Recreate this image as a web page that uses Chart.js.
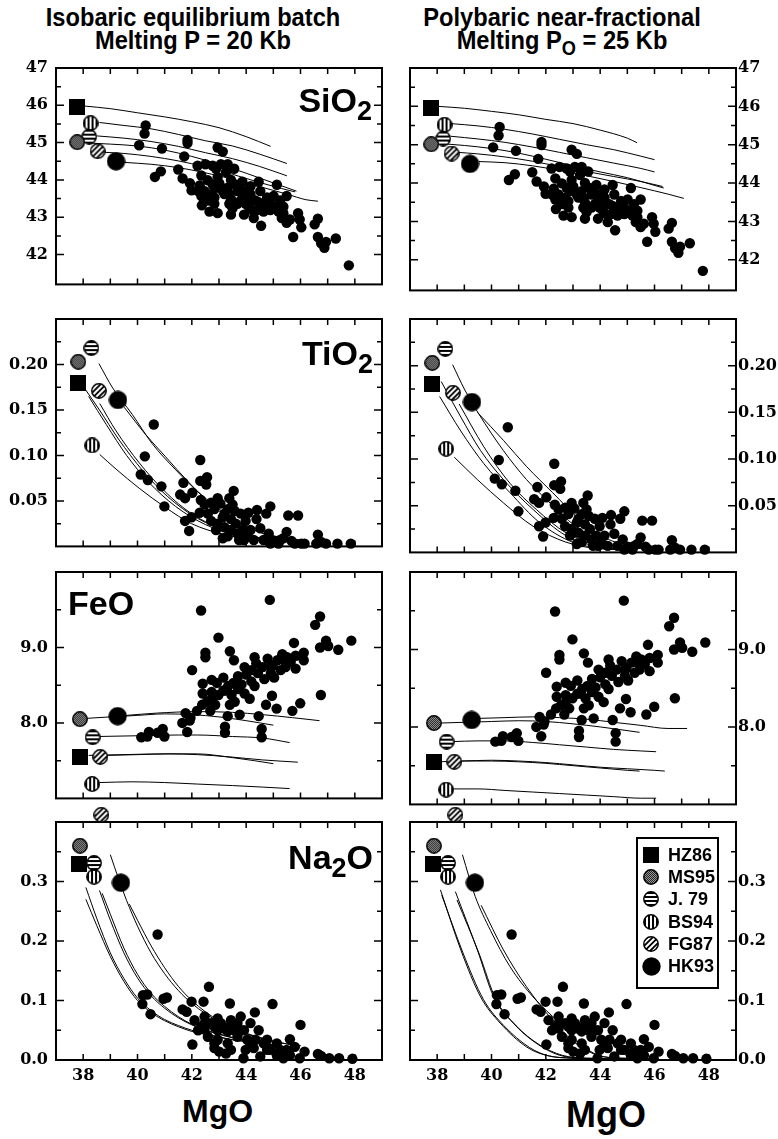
<!DOCTYPE html>
<html>
<head>
<meta charset="utf-8">
<script src="https://cdn.jsdelivr.net/npm/chart.js@4.4.0/dist/chart.umd.min.js"></script>
<style>
  body { margin: 0; background: #fff; width: 778px; height: 1139px; overflow: hidden; position: relative;
         font-family: "Liberation Sans", Arial, sans-serif; }
  .title { position: absolute; top: 6px; width: 400px; font-weight: bold; font-size: 26px; line-height: 23px;
           text-align: center; white-space: nowrap; transform: scaleX(0.91); transform-origin: 50% 0; }
  .panel { position: absolute; }
  .axis { position: absolute; font-weight: bold; white-space: nowrap; }
</style>
</head>
<body>
<div class="title" style="left:-7px">Isobaric equilibrium batch<br>Melting P = 20 Kb</div>
<div class="title" style="left:362px">Polybaric near-fractional<br>Melting P<span style="font-size:20px;position:relative;top:6px">O</span> = 25 Kb</div>
<div class="axis" style="left:182px;top:1095px;font-size:32px;line-height:32px">MgO</div>
<div class="axis" style="left:566px;top:1097px;font-size:36px;line-height:36px">MgO</div>

<script>
// starting compositions, in legend order
const sourceNames = ['HZ86', 'MS95', 'J. 79', 'BS94', 'FG87', 'HK93'];
const srcSiO2 = [[37.78, 45.95], [37.78, 45.01], [38.22, 45.16], [38.27, 45.52], [38.53, 44.77], [39.21, 44.50]];
const srcTiO2 = [[37.82, 0.180], [37.82, 0.203], [38.30, 0.218], [38.33, 0.111], [38.58, 0.171], [39.28, 0.161]];
const srcFeO = [[37.88, 7.55], [37.88, 8.05], [38.35, 7.81], [38.33, 7.19], [38.63, 7.55], [39.27, 8.09]];
const srcNa2O = [[37.86, 0.329], [37.88, 0.360], [38.40, 0.331], [38.40, 0.308], [38.67, 0.412], [39.39, 0.298]];

// peridotite samples (MgO, oxide)
const sio2Pts = [[40.30,45.46],[40.26,45.24],[40.06,44.93],[40.90,44.84],[41.84,45.07],[41.84,44.99],[42.95,44.87],[43.14,44.76],
  [41.72,44.63],[40.64,44.08],[40.86,44.23],[41.50,44.28],[41.66,44.04],[41.93,43.91],[41.99,43.72],[42.21,44.38],[42.50,44.42],
  [42.35,44.12],[42.29,43.85],[42.35,43.57],[42.37,43.32],[42.65,43.15],[42.83,43.36],[42.71,43.62],[42.89,43.79],[42.95,44.08],
  [43.07,44.42],[43.32,44.42],[43.26,44.21],[43.44,44.00],[43.56,44.30],[43.32,43.79],[43.20,43.62],[43.44,43.49],[43.68,43.70],
  [43.86,43.95],[43.50,43.24],[43.80,43.45],[43.98,43.36],[44.16,43.62],[44.10,43.28],[44.34,43.45],[44.52,43.70],[44.46,43.95],
  [44.28,42.98],[44.55,42.77],[44.64,43.36],[44.77,43.53],[44.89,43.19],[45.13,43.87],[45.25,43.45],[45.37,43.28],[45.49,43.57],
  [45.31,42.98],[45.61,42.94],[45.49,42.85],[45.73,42.47],[45.91,43.11],[45.97,42.94],[46.03,42.73],[46.52,42.81],[46.64,42.96],
  [46.64,42.47],[46.76,42.30],[46.88,42.18],[46.94,42.34],[47.30,42.43],[47.78,41.71],[42.59,43.99],[42.77,43.87],[43.01,43.91],
  [43.14,43.70],[43.38,43.62],[43.62,43.87],[43.74,43.79],[43.98,43.70],[43.92,43.57],[44.16,43.49],[43.68,43.36],[42.83,43.53],
  [42.47,43.70],[42.59,43.45],[42.23,43.70],[42.95,43.11],[43.44,43.07],[43.92,43.07],[44.40,43.19],[44.64,43.15],[44.89,43.36],
  [45.07,43.28],[45.19,43.15],[45.37,43.11],[45.01,43.57],[44.77,43.36],[44.22,43.19],[44.46,43.40],[43.38,43.36],[42.77,44.38],
  [44.16,43.83],[42.89,44.30]];
const tio2Pts = [[40.60,0.134],[40.27,0.099],[40.12,0.079],[40.38,0.073],[40.88,0.066],[40.99,0.044],[41.69,0.070],[41.57,0.057],
  [41.75,0.053],[42.02,0.059],[41.75,0.028],[41.90,0.017],[41.99,0.032],[42.31,0.095],[42.31,0.072],[42.56,0.076],[42.53,0.068],
  [42.33,0.051],[42.47,0.046],[42.71,0.048],[42.29,0.037],[42.59,0.036],[42.83,0.041],[43.05,0.047],[43.38,0.053],[43.54,0.061],
  [43.32,0.041],[43.58,0.039],[43.14,0.032],[43.44,0.030],[42.95,0.025],[43.20,0.021],[43.62,0.025],[43.86,0.018],[43.14,0.009],
  [43.32,0.011],[43.68,0.014],[44.08,0.037],[44.40,0.040],[44.38,0.030],[44.74,0.036],[44.89,0.044],[44.16,0.018],[44.52,0.020],
  [44.83,0.014],[44.04,0.011],[44.64,0.007],[45.01,0.006],[45.19,0.003],[45.49,0.016],[45.55,0.034],[45.91,0.034],[45.37,0.009],
  [45.67,0.006],[45.79,0.003],[46.03,0.003],[46.15,0.003],[46.64,0.013],[46.58,0.003],[46.76,0.005],[46.94,0.003],[47.36,0.003],
  [47.85,0.003],[42.71,0.028],[42.89,0.018],[43.44,0.018],[43.74,0.007],[43.92,0.007],[44.28,0.007],[44.89,0.003],[45.25,0.007],
  [43.50,0.046],[42.95,0.053],[43.20,0.036],[43.98,0.028],[43.80,0.036]];
const feoPts = [[42.34,9.49],[44.87,9.63],[42.98,9.13],[42.50,8.93],[42.50,8.87],[43.40,8.95],[43.55,8.83],[42.01,8.70],[42.40,8.52],
  [42.40,8.39],[42.73,8.57],[42.92,8.53],[43.16,8.60],[42.73,8.41],[41.77,8.13],[41.95,8.07],[42.19,8.16],[42.38,8.24],[42.56,8.28],
  [42.73,8.32],[42.98,8.37],[43.16,8.43],[43.34,8.49],[43.53,8.53],[43.70,8.45],[43.83,8.51],[44.00,8.64],[44.19,8.70],[44.37,8.79],
  [44.43,8.66],[44.61,8.74],[44.79,8.85],[44.97,8.76],[45.15,8.83],[45.33,8.91],[45.51,8.87],[45.76,9.06],[45.82,8.72],[46.12,8.93],
  [46.12,8.83],[46.54,9.30],[46.72,9.41],[46.72,9.00],[46.94,9.09],[47.02,9.02],[47.39,8.97],[47.87,9.09],[46.75,8.37],[45.99,8.26],
  [45.70,8.16],[45.12,8.19],[44.73,8.24],[44.95,8.36],[44.46,8.09],[43.76,8.11],[43.32,8.09],[43.22,7.95],[43.22,7.87],[44.57,7.92],
  [44.57,7.81],[41.65,8.00],[41.83,7.88],[41.92,8.03],[40.14,7.81],[40.36,7.82],[40.42,7.88],[40.74,7.87],[40.93,7.92],[40.99,7.82],
  [43.22,8.43],[43.46,8.37],[43.58,8.28],[43.94,8.39],[44.19,8.55],[44.31,8.49],[44.67,8.58],[44.91,8.66],[45.03,8.60],[45.27,8.70],
  [45.45,8.74],[45.64,8.81],[45.82,8.89],[43.94,8.74],[44.31,8.87],[44.91,8.74],[45.39,8.83],[44.13,8.32],[43.40,8.24],[42.86,8.24],
  [42.68,8.16],[43.70,8.62]];
const na2oPts = [[40.74,0.211],[40.20,0.109],[40.36,0.110],[40.18,0.094],[40.48,0.077],[40.96,0.103],[41.08,0.105],[41.66,0.085],
  [41.81,0.081],[41.99,0.098],[42.43,0.098],[42.63,0.123],[42.02,0.026],[42.10,0.067],[42.47,0.073],[42.35,0.056],[42.71,0.062],
  [42.95,0.050],[42.95,0.034],[43.32,0.048],[43.40,0.095],[43.44,0.067],[43.68,0.062],[43.80,0.073],[43.92,0.050],[44.16,0.062],
  [44.32,0.080],[44.46,0.050],[44.34,0.034],[43.98,0.017],[43.90,0.003],[43.26,0.011],[43.44,0.017],[44.52,0.006],[44.64,0.028],
  [44.77,0.034],[44.97,0.094],[45.13,0.028],[45.37,0.003],[45.49,0.017],[45.61,0.035],[45.79,0.022],[45.97,0.003],[46.00,0.059],
  [46.15,0.014],[46.64,0.010],[46.76,0.007],[47.06,0.003],[47.42,0.003],[47.91,0.002],[42.23,0.050],[42.47,0.053],[42.59,0.039],
  [42.83,0.056],[43.07,0.062],[43.20,0.053],[43.56,0.050],[43.68,0.039],[42.83,0.028],[44.04,0.034],[44.16,0.028],[43.32,0.028],
  [44.89,0.017],[45.25,0.017],[44.77,0.017],[45.13,0.008],[45.61,0.008],[44.28,0.020],[42.47,0.062],[42.95,0.070],[43.44,0.059],
  [43.80,0.050],[43.01,0.014],[42.83,0.020]];

// melting model curves, batch (left) and near-fractional (right)
const sio2Batch = [
  [[38.06,45.98],[39.0,45.91],[40.0,45.80],[41.0,45.69],[42.0,45.56],[43.0,45.40],[44.0,45.16],[44.9,44.90]],
  [[38.6,45.54],[39.5,45.46],[40.5,45.37],[41.5,45.22],[42.5,45.05],[43.5,44.91],[44.5,44.69],[45.5,44.44]],
  [[38.5,45.18],[39.5,45.12],[40.5,45.03],[41.5,44.90],[42.5,44.73],[43.5,44.57],[44.5,44.36],[45.5,44.11]],
  [[38.2,44.99],[39.0,44.96],[40.0,44.91],[41.0,44.80],[42.0,44.63],[43.0,44.42],[44.0,44.18],[45.0,43.92],[45.85,43.70]],
  [[38.8,44.74],[39.5,44.71],[40.5,44.63],[41.5,44.51],[42.5,44.35],[43.5,44.15],[44.5,43.93],[45.3,43.77],[45.8,43.68]],
  [[39.5,44.47],[40.5,44.42],[41.5,44.33],[42.5,44.19],[43.5,44.02],[44.5,43.82],[45.5,43.62],[46.2,43.47],[46.64,43.43]]];
const sio2Frac = [
  [[38.03,46.0],[39.0,45.95],[40.0,45.87],[41.0,45.78],[42.0,45.66],[43.0,45.55],[44.0,45.38],[45.0,45.17],[45.36,45.05]],
  [[38.5,45.55],[39.5,45.49],[40.5,45.40],[41.5,45.28],[42.5,45.14],[43.5,45.00],[44.5,44.87],[45.5,44.70],[46.0,44.61]],
  [[38.5,45.22],[39.5,45.15],[40.5,45.06],[41.5,44.94],[42.5,44.80],[43.5,44.66],[44.5,44.52],[45.5,44.38],[46.0,44.29]],
  [[38.3,45.02],[39.0,44.98],[40.0,44.90],[41.0,44.78],[42.0,44.62],[43.0,44.45],[44.0,44.29],[45.0,44.14],[45.8,43.98],[46.34,43.87]],
  [[38.75,44.80],[39.5,44.76],[40.5,44.68],[41.5,44.57],[42.5,44.43],[43.5,44.30],[44.5,44.17],[45.5,44.04],[46.3,43.91]],
  [[39.54,44.56],[40.5,44.53],[41.5,44.45],[42.5,44.33],[43.5,44.19],[44.5,44.04],[45.5,43.88],[46.5,43.71],[47.08,43.60]]];
const tio2Batch = [
  [[38.0,0.176],[38.6,0.150],[39.3,0.118],[40.2,0.083],[41.1,0.055],[42.2,0.031],[43.4,0.016],[44.6,0.009],[45.4,0.007]],
  [[38.2,0.165],[38.85,0.134],[39.6,0.100],[40.4,0.071],[41.4,0.044],[42.5,0.024],[43.7,0.012],[44.6,0.008],[45.4,0.006]],
  [[38.61,0.157],[39.21,0.127],[40.06,0.092],[41.02,0.060],[41.99,0.036],[43.2,0.018],[44.4,0.010],[45.4,0.007]],
  [[38.58,0.201],[39.09,0.174],[39.81,0.145],[40.54,0.113],[41.38,0.085],[42.23,0.060],[43.44,0.032],[44.64,0.014],[45.85,0.007]],
  [[39.51,0.153],[40.30,0.123],[41.02,0.099],[41.87,0.071],[42.83,0.043],[44.04,0.021],[45.25,0.010],[46.0,0.007]],
  [[38.61,0.101],[39.21,0.085],[40.06,0.064],[41.02,0.043],[41.99,0.025],[43.2,0.013],[44.4,0.007],[45.4,0.005]]];
const tio2Frac = [
  [[38.57,0.201],[39.0,0.175],[39.54,0.148],[40.44,0.109],[41.29,0.078],[42.01,0.057],[43.1,0.028],[44.3,0.010],[45.5,0.004]],
  [[39.48,0.150],[40.44,0.120],[41.29,0.092],[42.25,0.064],[43.22,0.036],[44.3,0.014],[45.5,0.005]],
  [[38.81,0.159],[39.72,0.113],[40.68,0.074],[41.65,0.046],[42.74,0.021],[43.94,0.007],[45.0,0.003]],
  [[38.15,0.183],[38.87,0.145],[39.6,0.109],[40.44,0.078],[41.53,0.046],[42.74,0.018],[43.94,0.006],[45.0,0.003]],
  [[38.09,0.167],[38.87,0.130],[39.72,0.095],[40.68,0.064],[41.77,0.032],[42.98,0.011],[44.19,0.004],[45.0,0.003]],
  [[38.63,0.102],[39.48,0.078],[40.44,0.053],[41.53,0.028],[42.74,0.011],[43.94,0.004],[45.0,0.003]]];
const feoBatch = [
  [[38.1,8.06],[39.0,8.08],[40.0,8.10],[41.0,8.12],[42.0,8.11],[43.0,8.08],[44.0,8.03],[45.0,7.97]],
  [[39.6,8.10],[40.7,8.13],[42.2,8.15],[43.5,8.14],[44.6,8.11],[45.7,8.07],[46.7,8.03]],
  [[38.5,7.82],[40.0,7.83],[41.5,7.84],[42.2,7.84],[43.5,7.82],[44.6,7.80],[45.6,7.74]],
  [[38.2,7.57],[39.5,7.58],[41.0,7.59],[42.2,7.59],[43.5,7.54],[44.3,7.50],[45.0,7.46]],
  [[38.85,7.57],[40.0,7.58],[41.2,7.59],[42.2,7.58],[43.4,7.55],[44.6,7.51],[45.9,7.48]],
  [[38.6,7.21],[39.8,7.22],[41.0,7.21],[42.2,7.19],[43.5,7.17],[44.6,7.15],[45.6,7.13]]];
const feoFrac = [
  [[38.1,8.05],[39.0,8.06],[40.0,8.07],[41.0,8.08],[42.0,8.07],[43.0,8.04],[44.0,8.00],[45.45,7.93]],
  [[39.5,8.11],[40.5,8.12],[41.5,8.13],[42.5,8.12],[43.5,8.10],[44.5,8.06],[45.5,8.02],[46.5,7.98],[47.2,7.98]],
  [[38.5,7.81],[39.5,7.82],[40.5,7.82],[41.5,7.80],[42.5,7.77],[43.5,7.74],[44.5,7.71],[45.5,7.69],[46.06,7.68]],
  [[38.1,7.55],[39.0,7.56],[40.0,7.56],[41.0,7.55],[42.0,7.53],[43.0,7.50],[44.0,7.47],[45.0,7.44],[45.45,7.43]],
  [[38.9,7.56],[40.0,7.57],[41.0,7.56],[42.0,7.54],[43.0,7.51],[44.0,7.48],[45.0,7.46],[46.0,7.44],[46.38,7.43]],
  [[38.6,7.20],[39.5,7.20],[40.5,7.18],[41.5,7.16],[42.5,7.14],[43.5,7.12],[44.5,7.10],[45.5,7.08],[46.06,7.08]]];
const na2oBatch = [
  [[39.0,0.345],[39.3,0.305],[39.6,0.268],[40.0,0.225],[40.5,0.180],[41.0,0.145],[41.5,0.117],[42.0,0.095],[42.5,0.078],[43.0,0.064],[43.5,0.053],[44.0,0.044],[44.5,0.037],[45.0,0.031],[45.5,0.027],[46.0,0.024]],
  [[39.7,0.262],[40.0,0.235],[40.5,0.192],[41.0,0.155],[41.5,0.124],[42.0,0.100],[42.5,0.081],[43.0,0.066],[43.5,0.054],[44.0,0.045],[44.5,0.038],[45.0,0.032],[45.5,0.027],[46.0,0.024]],
  [[38.6,0.285],[39.0,0.235],[39.5,0.180],[40.0,0.138],[40.5,0.108],[41.0,0.087],[41.5,0.071],[42.0,0.059],[42.5,0.050],[43.0,0.043],[43.5,0.037],[44.0,0.032],[44.5,0.028],[45.0,0.025],[45.5,0.022]],
  [[38.7,0.280],[39.0,0.245],[39.5,0.188],[40.0,0.144],[40.5,0.112],[41.0,0.090],[41.5,0.073],[42.0,0.060],[42.5,0.051],[43.0,0.044],[43.5,0.038],[44.0,0.033],[44.5,0.029],[45.0,0.025],[45.5,0.022]],
  [[38.1,0.290],[38.5,0.238],[39.0,0.180],[39.5,0.137],[40.0,0.104],[40.5,0.083],[41.0,0.068],[41.5,0.058],[42.0,0.050],[42.5,0.044],[43.0,0.039],[43.5,0.034],[44.0,0.031],[44.5,0.028],[45.0,0.025]],
  [[38.1,0.270],[38.5,0.226],[39.0,0.174],[39.5,0.132],[40.0,0.100],[40.5,0.080],[41.0,0.066],[41.5,0.056],[42.0,0.048],[42.5,0.043],[43.0,0.038],[43.5,0.034],[44.0,0.031],[44.5,0.028],[45.0,0.025]]];
const na2oFrac = [
  [[38.93,0.345],[39.4,0.275],[39.96,0.218],[40.68,0.157],[41.53,0.106],[42.5,0.062],[43.22,0.028],[43.94,0.008],[44.8,0.003],[46.0,0.002]],
  [[39.62,0.260],[40.44,0.185],[41.29,0.123],[42.25,0.067],[43.1,0.028],[43.9,0.008],[44.8,0.003],[46.0,0.002]],
  [[38.67,0.283],[39.48,0.185],[40.08,0.106],[40.8,0.062],[41.65,0.028],[42.5,0.008],[43.5,0.003],[45.0,0.002]],
  [[38.73,0.269],[39.55,0.178],[40.15,0.103],[40.9,0.058],[41.75,0.026],[42.6,0.008],[43.5,0.003],[45.0,0.002]],
  [[38.12,0.286],[38.87,0.185],[39.6,0.106],[40.32,0.062],[41.29,0.022],[42.0,0.008],[43.0,0.003],[44.0,0.002]],
  [[38.17,0.277],[38.95,0.180],[39.7,0.102],[40.45,0.058],[41.4,0.021],[42.1,0.007],[43.0,0.003],[44.0,0.002]]];

// marker glyphs
function makeMarker(name) {
  const s = name === 'HK93' ? 19 : 16;
  const c = document.createElement('canvas');
  c.width = s; c.height = s;
  const g = c.getContext('2d');
  const r = s / 2;
  if (name === 'HZ86') { g.fillStyle = '#000'; g.fillRect(0, 0, s, s); return c; }
  if (name === 'HK93') { g.fillStyle = '#000'; g.beginPath(); g.arc(r, r, r - 0.3, 0, 2 * Math.PI); g.fill(); return c; }
  g.save();
  g.beginPath(); g.arc(r, r, r - 0.8, 0, 2 * Math.PI);
  g.fillStyle = '#fff'; g.fill(); g.clip();
  g.fillStyle = '#000'; g.strokeStyle = '#000';
  if (name === 'MS95') {
    g.fillStyle = '#999'; g.fillRect(0, 0, s, s);
    g.fillStyle = '#222';
    for (let y = 0; y < s; y++) for (let x = 0; x < s; x++) if ((x + y) % 2 === 0) g.fillRect(x, y, 1, 1);
  } else if (name === 'J. 79') {
    for (let y = 1; y < s; y += 4) g.fillRect(0, y, s, 2);
  } else if (name === 'BS94') {
    for (let x = 1; x < s; x += 4) g.fillRect(x, 0, 2, s);
  } else if (name === 'FG87') {
    g.lineWidth = 1.8;
    g.beginPath();
    for (let k = -s; k < 2 * s; k += 5.5) { g.moveTo(k, s); g.lineTo(k + s, 0); }
    g.stroke();
  }
  g.restore();
  g.lineWidth = 1.5; g.strokeStyle = '#000';
  g.beginPath(); g.arc(r, r, r - 0.8, 0, 2 * Math.PI); g.stroke();
  return c;
}
const markers = {};
sourceNames.forEach(n => { markers[n] = makeMarker(n); });

const serif = '"DejaVu Serif", "Liberation Serif", serif';
const sans = '"Liberation Sans", Arial, sans-serif';

function drawFormula(ctx, parts, x, y, align) {
  const big = 'bold 34px ' + sans, small = 'bold 27px ' + sans;
  let w = 0;
  parts.forEach(([t, sub]) => { ctx.font = sub ? small : big; w += ctx.measureText(t).width; });
  let cx = align === 'right' ? x - w : x;
  ctx.textAlign = 'left'; ctx.textBaseline = 'alphabetic';
  parts.forEach(([t, sub]) => {
    ctx.font = sub ? small : big;
    ctx.fillText(t, cx, sub ? y + 8 : y);
    cx += ctx.measureText(t).width;
  });
}

const framePlugin = {
  id: 'frame',
  beforeDatasetsDraw(chart, args, opts) {
    const { ctx, chartArea: a } = chart;
    const xs = chart.scales.x, ys = chart.scales.y;
    const isMajor = v => Math.abs(v / opts.major - Math.round(v / opts.major)) < 1e-6;
    ctx.save();
    ctx.strokeStyle = '#000';
    ctx.lineWidth = 1.5;
    ctx.beginPath();
    xs.ticks.forEach(t => {
      const px = xs.getPixelForValue(t.value);
      if (px <= a.left + 1 || px >= a.right - 1) return;
      ctx.moveTo(px, a.bottom); ctx.lineTo(px, a.bottom - 6);
      ctx.moveTo(px, a.top); ctx.lineTo(px, a.top + 6);
    });
    ys.ticks.forEach(t => {
      const py = ys.getPixelForValue(t.value);
      if (py <= a.top + 1 || py >= a.bottom - 1) return;
      const len = isMajor(t.value) ? 8 : 5;
      ctx.moveTo(a.left, py); ctx.lineTo(a.left + len, py);
      ctx.moveTo(a.right, py); ctx.lineTo(a.right - len, py);
    });
    ctx.stroke();
    ctx.lineWidth = 2;
    ctx.strokeRect(a.left, a.top, a.right - a.left, a.bottom - a.top);
    ctx.restore();
  },
  afterDatasetsDraw(chart, args, opts) {
    const { ctx, chartArea: a } = chart;
    ctx.save();
    ctx.fillStyle = '#000';
    if (opts.label) {
      const L = opts.label;
      drawFormula(ctx, L.parts, L.align === 'right' ? a.right - L.dx : a.left + L.dx, a.top + L.dy, L.align);
    }
    if (opts.legend) {
      const bx = a.right - 99, by = a.top + 16, bw = 81, bh = 150;
      ctx.fillStyle = '#fff'; ctx.fillRect(bx, by, bw, bh);
      ctx.lineWidth = 2; ctx.strokeStyle = '#000'; ctx.strokeRect(bx, by, bw, bh);
      ctx.fillStyle = '#000';
      ctx.font = 'bold 18px ' + sans;
      ctx.textAlign = 'left'; ctx.textBaseline = 'middle';
      sourceNames.forEach((n, i) => {
        const cy = by + 17 + i * 22.2;
        const img = markers[n];
        ctx.drawImage(img, Math.round(bx + 14 - img.width / 2), Math.round(cy - img.height / 2));
        ctx.fillText(n, bx + 31, cy + 1);
      });
    }
    ctx.restore();
  }
};

function toXY(arr) { return arr.map(([x, y]) => ({ x, y })); }

function addPanel(p) {
  const leftCol = p.col === 'left';
  const divLeft = leftCol ? 0 : 400, width = leftCol ? 392 : 378;
  const padTop = 22, padBottom = p.xLabels ? 0 : 6, xH = p.xLabels ? 32 : 0;
  const height = (p.bottom - p.top) + padTop + padBottom + xH;
  const div = document.createElement('div');
  div.className = 'panel';
  div.style.cssText = `left:${divLeft}px;top:${p.top - padTop}px;width:${width}px;height:${height}px`;
  const cv = document.createElement('canvas');
  cv.width = width; cv.height = height;
  div.appendChild(cv);
  document.body.appendChild(div);

  const datasets = [];
  sourceNames.forEach((n, i) => {
    datasets.push({ data: toXY([p.sources[i]]), pointStyle: markers[n], pointRadius: 9, clip: false });
  });
  datasets.push({ data: toXY(p.points), pointStyle: 'circle', pointRadius: 5.2, pointBackgroundColor: '#000',
                  pointBorderWidth: 0, clip: false });
  p.curves.forEach(c => {
    datasets.push({ data: toXY(c), showLine: true, pointRadius: 0, borderColor: '#000', borderWidth: 1,
                    cubicInterpolationMode: 'monotone', clip: false });
  });

  new Chart(cv, {
    type: 'scatter',
    data: { datasets },
    plugins: [framePlugin],
    options: {
      responsive: false,
      animation: false,
      events: [],
      layout: { padding: { top: padTop, bottom: padBottom, left: leftCol ? 0 : 5, right: leftCol ? 5 : 0 } },
      plugins: {
        legend: { display: false },
        tooltip: { enabled: false },
        frame: { major: p.major, label: p.label, legend: p.legend }
      },
      scales: {
        x: {
          type: 'linear', min: 37, max: 49,
          grid: { display: false, drawTicks: false },
          border: { display: false },
          ticks: {
            display: !!p.xLabels, stepSize: 1, autoSkip: false, maxRotation: 0, padding: 6,
            color: '#000', font: { family: serif, size: 16, weight: 'bold' },
            callback: v => (v % 2 === 0 && v >= 38 && v <= 48) ? String(v) : ''
          },
          afterFit: s => { s.height = xH; }
        },
        y: {
          type: 'linear', position: leftCol ? 'left' : 'right', min: p.yMin, max: p.yMax,
          grid: { display: false, drawTicks: false },
          border: { display: false },
          ticks: {
            stepSize: p.step, autoSkip: false, padding: leftCol ? 8 : 2,
            color: '#000', font: { family: serif, size: 16, weight: 'bold' },
            callback: p.fmt
          },
          afterFit: s => { s.width = leftCol ? 56 : 42; }
        }
      }
    }
  });
}

const rows = [
  { top: 68, bottom: 296, yMin: 41.2, yMax: 47, step: 0.5, major: 1, points: sio2Pts, sources: srcSiO2,
    batch: sio2Batch, frac: sio2Frac,
    fmt: v => (Math.abs(v - Math.round(v)) < 1e-6 && v >= 42 && v <= 47) ? String(Math.round(v)) : '',
    label: { parts: [['SiO', false], ['2', true]], align: 'right', dx: 10, dy: 44 } },
  { top: 319, bottom: 558, yMin: 0, yMax: 0.25, step: 0.025, major: 0.05, points: tio2Pts, sources: srcTiO2,
    batch: tio2Batch, frac: tio2Frac,
    fmt: v => { const k = Math.round(v / 0.05); return (Math.abs(v / 0.05 - k) < 1e-6 && k >= 1 && k <= 4) ? (k * 0.05).toFixed(2) : ''; },
    label: { parts: [['TiO', false], ['2', true]], align: 'right', dx: 9, dy: 46 } },
  { top: 572, bottom: 810, yMin: 7, yMax: 10, step: 0.5, major: 1, points: feoPts, sources: srcFeO,
    batch: feoBatch, frac: feoFrac,
    fmt: v => (Math.abs(v - 8) < 1e-6 || Math.abs(v - 9) < 1e-6) ? v.toFixed(1) : '',
    label: { parts: [['FeO', false]], align: 'left', dx: 12, dy: 43 } },
  { top: 822, bottom: 1060, yMin: 0, yMax: 0.4, step: 0.05, major: 0.1, points: na2oPts, sources: srcNa2O,
    batch: na2oBatch, frac: na2oFrac, xLabels: true,
    fmt: v => { const k = Math.round(v / 0.1); return (Math.abs(v / 0.1 - k) < 1e-6 && k >= 0 && k <= 3) ? (k * 0.1).toFixed(1) : ''; },
    label: { parts: [['Na', false], ['2', true], ['O', false]], align: 'right', dx: 9, dy: 47 } }
];

rows.forEach((r, i) => {
  addPanel(Object.assign({}, r, { col: 'left', curves: r.batch }));
  addPanel(Object.assign({}, r, { col: 'right', curves: r.frac, label: null, legend: i === 3 }));
});
</script>
</body>
</html>
